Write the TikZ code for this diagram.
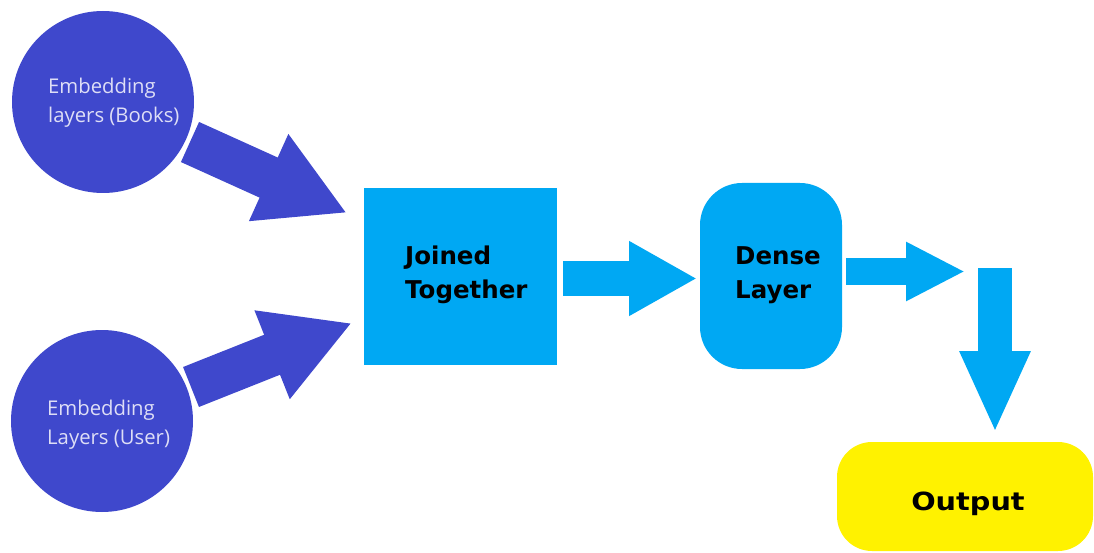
\documentclass[tikz,border=0pt]{standalone}
\usepackage{fontspec}
\setmainfont{Open Sans}
\newfontfamily\boldlabel{DejaVu Sans}[BoldFont={DejaVu Sans Bold}]
\usetikzlibrary{arrows.meta}
\definecolor{embedblue}{RGB}{63,72,204}
\definecolor{skyblue}{RGB}{0,168,243}
\definecolor{outyellow}{RGB}{255,242,0}
\definecolor{lavender}{RGB}{222,222,246}
\tikzset{
  embedcircle/.style={circle, fill=embedblue, draw=none, minimum size=182pt, inner sep=0pt},
  embedtext/.style={anchor=west, inner sep=0pt, align=left, text=lavender,
    font=\fontsize{20.3}{29}\selectfont},
  boldtext/.style={anchor=west, inner sep=0pt, align=left, text=black,
    font=\boldlabel\bfseries\fontsize{24.5}{34}\selectfont},
  bigarrow/.style n args={4}{draw=#1, line width=#2pt,
    -{Triangle[length=#3pt, width=#4pt, fill=#1]}},
}
\begin{document}
\begin{tikzpicture}[x=1pt, y=-1pt]
  \useasboundingbox (0,0) rectangle (1094,553);

  % input embeddings
  \node[embedcircle] (books) at (103,102) {};
  \node[embedtext] (books-label) at (48,103) {Embedding\\layers (Books)};
  \node[embedcircle] (users) at (102,421) {};
  \node[embedtext] (users-label) at (47,425) {Embedding\\Layers (User)};

  % concatenation block
  \node[rectangle, fill=skyblue, minimum width=193pt, minimum height=177pt, inner sep=0pt]
    (joined) at (460.5,276.5) {};
  \node[boldtext] (joined-label) at (405,275) {Joined\\Together};

  % dense layer
  \node[rectangle, fill=skyblue, rounded corners=42pt, minimum width=142pt,
    minimum height=186pt, inner sep=0pt] (dense) at (771,276) {};
  \node[boldtext] (dense-label) at (735,275) {Dense\\Layer};

  % output
  \node[rectangle, fill=outyellow, rounded corners=35pt, minimum width=256pt,
    minimum height=109pt, inner sep=0pt] (output) at (965,496.5) {};
  \node[anchor=base, inner sep=0pt, font=\boldlabel\bfseries\fontsize{25}{30}\selectfont]
    (output-label) at (968,510) {\scalebox{1.15}[1]{Output}};

  % arrow end points
  \coordinate (a1s) at (190,142);  \coordinate (a1t) at (347,213);
  \coordinate (a2s) at (191,387);  \coordinate (a2t) at (352,323);
  \coordinate (a3s) at (563,278.5); \coordinate (a3t) at (697,278.5);
  \coordinate (a4s) at (846,271.5); \coordinate (a4t) at (965,271.5);
  \coordinate (a5s) at (995,268);  \coordinate (a5t) at (995,433);

  % block arrows
  \draw[bigarrow={embedblue}{44}{86}{89}] (a1s) -- (a1t);
  \draw[bigarrow={embedblue}{43}{86}{89}] (a2s) -- (a2t);
  \draw[bigarrow={skyblue}{35}{68}{70}] (a3s) -- (a3t);
  \draw[bigarrow={skyblue}{27}{59}{55}] (a4s) -- (a4t);
  \draw[bigarrow={skyblue}{34}{82}{65}] (a5s) -- (a5t);
\end{tikzpicture}
\end{document}
